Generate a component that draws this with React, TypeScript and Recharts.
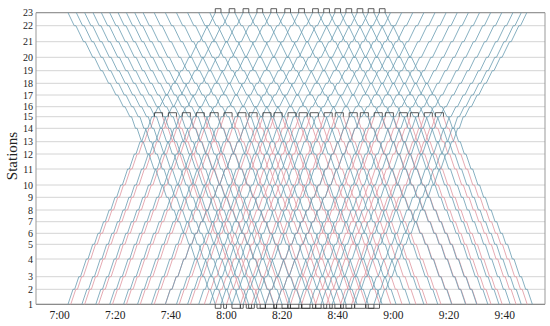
import { LineChart, Line, XAxis, YAxis, CartesianGrid, ReferenceLine } from 'recharts';

// vertical position of each station (station 1 at the bottom)
const STATION_POS = [
  0, 15, 27.6, 45.3, 60, 71, 82.6, 94.3, 107, 119.3, 135.3, 150.3,
  162.6, 176, 187.6, 197.6, 209.3, 221, 233.6, 247, 262.6, 278.6, 291.6,
];

// running minutes between neighbouring stations (1-2, 2-3, ... 22-23)
const SECTION_RUN = [
  1.8, 1.5, 2.1, 1.7, 1.3, 1.4, 1.4, 1.5, 1.45, 1.9, 1.8, 1.45, 1.6, 1.4,
  1.75, 2.05, 2.05, 2.2, 2.3, 2.7, 2.75, 2.25,
];
const DWELL = 0.6;
const SHORT_TURN = 14; // index of station 15

// full-line trains (1 <-> 23)
const BLUE_UP = [
  '7:03', '7:08', '7:13', '7:18', '7:23', '7:28', '7:33', '7:38', '7:42', '7:46',
  '7:50', '7:54', '7:58', '8:02', '8:06', '8:10', '8:14', '8:18', '8:22', '8:26',
  '8:30', '8:34', '8:38', '8:42', '8:46', '8:50', '8:53', '8:55',
];
const BLUE_DOWN = [
  '7:03', '7:06', '7:09', '7:12', '7:15', '7:18', '7:21', '7:24', '7:27', '7:30',
  '7:34', '7:38', '7:42', '7:46', '7:50', '7:54', '7:58', '8:03', '8:08', '8:13',
  '8:18', '8:23', '8:28', '8:33', '8:37', '8:41', '8:45', '8:49', '8:53', '8:57',
];

// short-turn trains (1 <-> 15)
const RED_UP = [
  '7:04', '7:09', '7:14', '7:19', '7:24', '7:29', '7:34', '7:38', '7:43', '7:47',
  '7:52', '7:56', '8:00', '8:05', '8:09', '8:14', '8:18', '8:23', '8:27', '8:32',
  '8:36', '8:41', '8:45',
];
const RED_DOWN = [
  '7:37', '7:42', '7:47', '7:52', '7:57', '8:02', '8:07', '8:11', '8:16', '8:20',
  '8:25', '8:29', '8:33', '8:38', '8:42', '8:47', '8:51', '8:56', '9:00', '9:05',
  '9:09', '9:14', '9:18',
];

const TIME_TICKS = ['7:00', '7:20', '7:40', '8:00', '8:20', '8:40', '9:00', '9:20', '9:40'];

const BLUE = '#6b9db2';
const RED = '#e3a0a9';
const FONT = "'Liberation Serif', 'Times New Roman', serif";

const tm = (s: string) => {
  const [h, m] = s.split(':').map(Number);
  return h * 60 + m;
};
const fmt = (v: number) => `${Math.floor(v / 60)}:${String(Math.round(v % 60)).padStart(2, '0')}`;

type Pt = { t: number; y: number };

function trip(dep: number, from: number, to: number): Pt[] {
  const dir = to > from ? 1 : -1;
  const pts: Pt[] = [{ t: dep, y: STATION_POS[from] }];
  let t = dep;
  for (let i = from; i !== to; i += dir) {
    t += SECTION_RUN[dir > 0 ? i : i - 1];
    const j = i + dir;
    pts.push({ t, y: STATION_POS[j] });
    if (j !== to) {
      t += DWELL;
      pts.push({ t, y: STATION_POS[j] });
    }
  }
  return pts;
}

// turnaround brackets: arrival joined to the next free departure at the same terminal
function brackets(arrivals: number[], departures: number[], y: number, h: number): Pt[][] {
  const deps = [...departures].sort((a, b) => a - b);
  const used = new Set<number>();
  const out: Pt[][] = [];
  for (const a of [...arrivals].sort((p, q) => p - q)) {
    const k = deps.findIndex((d, i) => !used.has(i) && d - a >= 1 && d - a <= 5);
    if (k < 0) continue;
    used.add(k);
    const d = deps[k];
    out.push([{ t: a, y }, { t: a, y: y + h }, { t: d, y: y + h }, { t: d, y }]);
  }
  return out;
}

const last = STATION_POS.length - 1;
const blueUp = BLUE_UP.map((s) => trip(tm(s), 0, last));
const blueDown = BLUE_DOWN.map((s) => trip(tm(s), last, 0));
const redUp = RED_UP.map((s) => trip(tm(s), 0, SHORT_TURN));
const redDown = RED_DOWN.map((s) => trip(tm(s), SHORT_TURN, 0));

const endT = (p: Pt[]) => p[p.length - 1].t;

const turns = [
  ...brackets(blueUp.map(endT), BLUE_DOWN.map(tm), STATION_POS[last], 4),
  ...brackets(redUp.map(endT), RED_DOWN.map(tm), STATION_POS[SHORT_TURN], 4),
  ...brackets(
    [...blueDown, ...redDown].map(endT),
    [...BLUE_UP, ...RED_UP].map(tm),
    STATION_POS[0],
    -4,
  ),
];

const tickStyle = { fontFamily: FONT, fill: '#222' };

export default function App() {
  return (
    <div style={{ position: 'absolute', left: 0, top: 0, fontFamily: FONT }}>
      <style>{`.recharts-cartesian-axis-tick-value { font-family: ${FONT}; }`}</style>
      <LineChart width={550} height={326} margin={{ top: 6.7, right: 5, left: 0, bottom: 0 }}>
        <CartesianGrid
          horizontal
          vertical={false}
          horizontalValues={STATION_POS}
          stroke="#d4d4d4"
          strokeWidth={1}
        />
        <XAxis
          type="number"
          dataKey="t"
          domain={[411.5, 594.5]}
          allowDataOverflow
          ticks={TIME_TICKS.map(tm)}
          tickFormatter={fmt}
          axisLine={false}
          tickLine={false}
          tickSize={0}
          tickMargin={1}
          height={15.7}
          interval={0}
          tick={{ ...tickStyle, fontSize: 11.5 }}
        />
        <YAxis
          type="number"
          domain={[-6, 297.6]}
          allowDataOverflow
          ticks={STATION_POS}
          interval={0}
          tickFormatter={(v: number) => String(STATION_POS.indexOf(v) + 1)}
          axisLine={false}
          tickLine={false}
          tickSize={0}
          tickMargin={3}
          width={36}
          tick={{ ...tickStyle, fontSize: 10 }}
          label={{
            content: () => (
              <text
                x={14}
                y={156}
                transform="rotate(-90 14 156)"
                textAnchor="middle"
                dominantBaseline="middle"
                fontFamily={FONT}
                fontSize={15}
                fill="#222"
              >
                Stations
              </text>
            ),
          }}
        />
        <ReferenceLine y={STATION_POS[0]} stroke="#777" strokeWidth={1} />
        <ReferenceLine y={STATION_POS[last]} stroke="#888" strokeWidth={1} />
        <ReferenceLine
          segment={[{ x: 411.5, y: 0 }, { x: 411.5, y: STATION_POS[last] }]}
          stroke="#999"
        />
        <ReferenceLine
          segment={[{ x: 594.5, y: 0 }, { x: 594.5, y: STATION_POS[last] }]}
          stroke="#999"
        />
        {[...redUp, ...redDown].map((pts, i) => (
          <Line
            key={`r${i}`}
            data={pts}
            dataKey="y"
            type="linear"
            stroke={RED}
            strokeWidth={0.9}
            dot={false}
            activeDot={false}
            isAnimationActive={false}
          />
        ))}
        {[...blueUp, ...blueDown].map((pts, i) => (
          <Line
            key={`b${i}`}
            data={pts}
            dataKey="y"
            type="linear"
            stroke={BLUE}
            strokeWidth={0.9}
            strokeOpacity={0.9}
            dot={false}
            activeDot={false}
            isAnimationActive={false}
          />
        ))}
        {turns.map((pts, i) => (
          <Line
            key={`t${i}`}
            data={pts}
            dataKey="y"
            type="linear"
            stroke="#333"
            strokeWidth={0.8}
            dot={false}
            activeDot={false}
            isAnimationActive={false}
          />
        ))}
      </LineChart>
    </div>
  );
}
